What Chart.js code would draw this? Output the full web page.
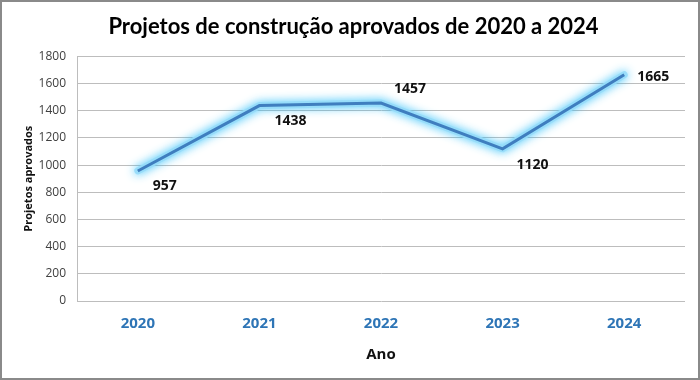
<!DOCTYPE html>
<html>
<head>
<meta charset="utf-8">
<script src="https://cdn.jsdelivr.net/npm/chart.js@4"></script>
<style>
html,body{margin:0;padding:0;background:#fff;}
#wrap{width:700px;height:380px;position:relative;}
</style>
</head>
<body>
<div id="wrap"><canvas id="c" width="700" height="380"></canvas></div>
<script>
const years = ["2020", "2021", "2022", "2023", "2024"];
const approved = [957, 1438, 1457, 1120, 1665];
const yTicks = [0, 200, 400, 600, 800, 1000, 1200, 1400, 1600, 1800];

// label offsets relative to each point (layout only)
const labelOffsets = [[27, 15], [31, 15], [29, -14], [30, 16], [29, 2]];

const glowPlugin = {
  id: 'glow',
  beforeDatasetsDraw(chart) {
    const ctx = chart.ctx;
    const meta = chart.getDatasetMeta(0);
    // soft cyan halo under the line
    ctx.save();
    ctx.lineJoin = 'round';
    ctx.lineCap = 'round';
    ctx.shadowColor = 'rgba(40,190,250,1)';
    ctx.shadowBlur = 10;
    ctx.strokeStyle = 'rgba(150,220,250,0.9)';
    ctx.lineWidth = 7;
    ctx.beginPath();
    meta.data.forEach((p, i) => { if (i === 0) ctx.moveTo(p.x, p.y); else ctx.lineTo(p.x, p.y); });
    ctx.stroke();
    ctx.restore();
  }
};

const labelPlugin = {
  id: 'pointLabels',
  afterDraw(chart) {
    const ctx = chart.ctx;
    const meta = chart.getDatasetMeta(0);
    ctx.save();
    ctx.font = 'bold 14px "Open Sans", sans-serif';
    ctx.fillStyle = '#111';
    ctx.textAlign = 'center';
    ctx.textBaseline = 'middle';
    meta.data.forEach((pt, i) => {
      const o = labelOffsets[i];
      ctx.fillText(String(approved[i]), pt.x + o[0], pt.y + o[1]);
    });
    ctx.restore();
  }
};

const borderPlugin = {
  id: 'frame',
  afterDraw(chart) {
    const ctx = chart.ctx;
    ctx.save();
    ctx.strokeStyle = '#8a8a8a';
    ctx.lineWidth = 2;
    ctx.strokeRect(1, 1, chart.width - 2, chart.height - 2);
    ctx.restore();
  }
};

new Chart(document.getElementById('c'), {
  type: 'line',
  data: {
    labels: years,
    datasets: [{
      label: 'Projetos aprovados',
      data: approved,
      borderColor: '#3f7ebf',
      borderWidth: 3,
      pointRadius: 0,
      tension: 0,
      fill: false
    }]
  },
  options: {
    responsive: false,
    animation: false,
    devicePixelRatio: 1,
    layout: { padding: { left: 22, right: 15, top: 8, bottom: 16 } },
    plugins: {
      legend: { display: false },
      tooltip: { enabled: false },
      title: {
        display: true,
        text: 'Projetos de construção aprovados de 2020 a 2024',
        color: '#000',
        font: { family: 'Lato, "Open Sans", sans-serif', size: 22, weight: 'bold' },
        padding: { top: 6, bottom: 16 }
      }
    },
    scales: {
      x: {
        offset: true,
        grid: { display: false, drawTicks: false },
        border: { display: false },
        ticks: {
          color: '#2e75b6',
          font: { family: '"Open Sans", sans-serif', size: 15, weight: 'bold' },
          padding: 14
        },
        title: {
          display: true,
          text: 'Ano',
          color: '#111',
          font: { family: '"Open Sans", sans-serif', size: 15, weight: 'bold' },
          padding: { top: 4, bottom: 0 }
        },
        afterFit(s) { s.height = 63; }
      },
      y: {
        min: 0,
        max: 1800,
        afterBuildTicks(s) { s.ticks = yTicks.map(v => ({ value: v })); },
        grid: { color: '#bdbdbd', lineWidth: 1, drawTicks: false },
        border: { display: true, color: '#bdbdbd' },
        ticks: {
          color: '#404040',
          font: { family: '"Open Sans", sans-serif', size: 12 },
          padding: 11,
          callback: (v) => String(v)
        },
        title: {
          display: true,
          text: 'Projetos aprovados',
          color: '#111',
          font: { family: '"Open Sans", sans-serif', size: 11, weight: 'bold' },
          padding: { top: 0, bottom: 4 }
        },
        afterFit(s) { s.width = 55; }
      }
    }
  },
  plugins: [glowPlugin, labelPlugin, borderPlugin]
});
</script>
</body>
</html>
